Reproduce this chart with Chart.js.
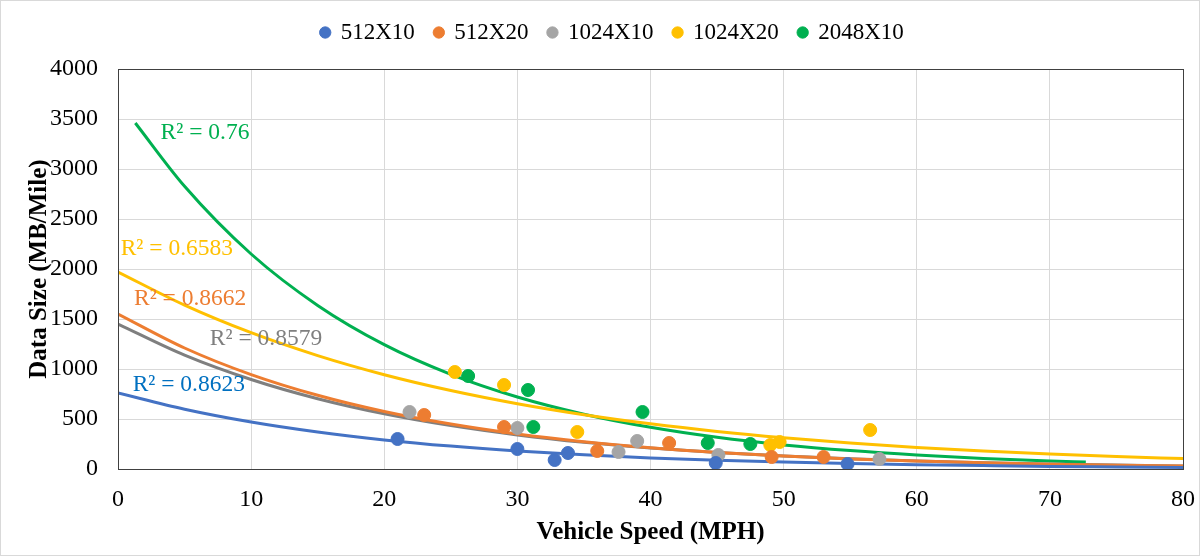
<!DOCTYPE html>
<html>
<head>
<meta charset="utf-8">
<script src="https://cdn.jsdelivr.net/npm/chart.js@4"></script>
<style>
  html, body { margin: 0; padding: 0; background: #fff; }
  #wrap { width: 1204px; height: 560px; position: relative; }
</style>
</head>
<body>
<div id="wrap"><canvas id="grafica"></canvas></div>
<script>
// ─── DATOS ────────────────────────────────────────────────────────
const series = ['512X10', '512X20', '1024X10', '1024X20', '2048X10']
const colores = ['#4472c4', '#ed7d31', '#a5a5a5', '#ffc000', '#00b050']
const coloresTend = ['#4472c4', '#ed7d31', '#7f7f7f', '#ffc000', '#00b050']
const coloresR2 = ['#0070c0', '#ed7d31', '#7f7f7f', '#ffc000', '#00b050']

// velocidad (MPH) / tamaño (MB/Mile) de cada punto
const vel512x10 = [21.0, 30.0, 32.8, 33.8, 44.9, 54.8]
const mb512x10 = [300, 200, 90, 160, 60, 50]
const vel512x20 = [23.0, 29.0, 36.0, 41.4, 49.1, 53.0]
const mb512x20 = [540, 420, 180, 260, 120, 120]
const vel1024x10 = [21.9, 30.0, 37.6, 39.0, 45.1, 57.2]
const mb1024x10 = [570, 410, 170, 280, 140, 100]
const vel1024x20 = [25.3, 29.0, 34.5, 49.0, 49.7, 56.5]
const mb1024x20 = [970, 840, 370, 240, 270, 390]
const vel2048x10 = [26.3, 30.8, 31.2, 39.4, 44.3, 47.5]
const mb2048x10 = [930, 790, 420, 570, 260, 250]

// líneas de tendencia
const velTend = [0, 5, 10, 15, 20, 25, 30, 35, 40, 45, 50, 55, 60, 65, 70, 75, 80]
const tend512x10 = [760, 598, 470, 370, 291, 229, 180, 142, 111, 88, 69, 54, 43, 34, 26, 21, 16]
const tend512x20 = [1550, 1210, 944, 737, 575, 449, 350, 273, 213, 166, 130, 101, 79, 62, 48, 38, 29]
const tend1024x10 = [1450, 1139, 895, 703, 552, 434, 341, 267, 210, 165, 130, 102, 80, 63, 49, 39, 31]
const tend1024x20 = [1970, 1639, 1363, 1134, 943, 785, 653, 543, 452, 376, 313, 260, 216, 180, 150, 125, 104]
const velTendVerde = [1.3, 5, 10, 15, 20, 25, 30, 35, 40, 45, 50, 55, 60, 65, 70, 72.7]
const tend2048x10 = [3460, 2827, 2150, 1636, 1244, 947, 720, 548, 417, 317, 241, 184, 140, 106, 81, 70]

// etiquetas R²
const textosR2 = ['R² = 0.8623', 'R² = 0.8662', 'R² = 0.8579', 'R² = 0.6583', 'R² = 0.76']
const posR2x = [1.1, 1.2, 6.9, 0.2, 3.2]
const posR2y = [840, 1700, 1300, 2200, 3360]

const xTicks = [0, 10, 20, 30, 40, 50, 60, 70, 80]

const fuente = "'Liberation Serif', 'Times New Roman', serif"

const puntos = (xs, ys) => xs.map((x, i) => ({ x: x, y: ys[i] }))

const velPuntos = [vel512x10, vel512x20, vel1024x10, vel1024x20, vel2048x10]
const mbPuntos = [mb512x10, mb512x20, mb1024x10, mb1024x20, mb2048x10]
const velTendencias = [velTend, velTend, velTend, velTend, velTendVerde]
const tendencias = [tend512x10, tend512x20, tend1024x10, tend1024x20, tend2048x10]

const datasets = []
series.forEach((nombre, i) => {
    datasets.push({
        type: 'scatter',
        label: nombre,
        data: puntos(velPuntos[i], mbPuntos[i]),
        backgroundColor: colores[i],
        borderColor: colores[i],
        pointRadius: 6.5,
        pointHoverRadius: 6.5,
        order: 1
    })
})
series.forEach((nombre, i) => {
    datasets.push({
        type: 'line',
        label: 'tend-' + nombre,
        data: puntos(velTendencias[i], tendencias[i]),
        borderColor: coloresTend[i],
        backgroundColor: coloresTend[i],
        borderWidth: 3,
        pointRadius: 0,
        cubicInterpolationMode: 'monotone',
        fill: false,
        order: 2
    })
})

// ─── PLUGIN: marco, borde del área, leyenda y textos R² ───────────
const extras = {
    id: 'extras',
    beforeLayout(chart) {
        const leg = chart.legend
        if (leg && !leg._ajustada) {
            const fitOrig = leg.fit.bind(leg)
            leg.fit = function () { fitOrig(); this.height = 68 }
            leg._ajustada = true
        }
    },
    afterLayout(chart) {
        const leg = chart.legend
        if (leg) { leg.left += 21; leg.right += 21 }
    },
    beforeDraw(chart) {
        const ctx = chart.ctx
        ctx.save()
        ctx.fillStyle = '#fff'
        ctx.fillRect(0, 0, chart.width, chart.height)
        ctx.strokeStyle = '#d9d9d9'
        ctx.lineWidth = 1
        ctx.strokeRect(0.5, 0.5, 1199, 555)
        ctx.restore()
    },
    afterDatasetsDraw(chart) {
        const ctx = chart.ctx
        const { left, right, top, bottom } = chart.chartArea
        ctx.save()
        ctx.strokeStyle = '#404040'
        ctx.lineWidth = 1
        ctx.strokeRect(Math.round(left) + 0.5, Math.round(top) + 0.5, Math.round(right - left), Math.round(bottom - top))
        ctx.font = '23.5px ' + fuente
        ctx.textBaseline = 'middle'
        ctx.textAlign = 'left'
        textosR2.forEach((t, i) => {
            ctx.fillStyle = coloresR2[i]
            ctx.fillText(t, chart.scales.x.getPixelForValue(posR2x[i]), chart.scales.y.getPixelForValue(posR2y[i]))
        })
        ctx.restore()
    }
}

new Chart(document.getElementById('grafica'), {
    type: 'scatter',
    data: { datasets: datasets },
    options: {
        responsive: true,
        maintainAspectRatio: false,
        animation: false,
        layout: { padding: { top: 1, right: 21, left: 0, bottom: 0 } },
        plugins: {
            tooltip: { enabled: false },
            legend: {
                position: 'top',
                labels: {
                    filter: item => item.datasetIndex < 5,
                    usePointStyle: true,
                    pointStyle: 'circle',
                    boxWidth: 8,
                    boxHeight: 8,
                    padding: 20,
                    color: '#000',
                    font: { family: fuente, size: 23 }
                }
            }
        },
        scales: {
            x: {
                type: 'linear',
                min: 0,
                max: 80,
                afterBuildTicks: s => { s.ticks = xTicks.map(v => ({ value: v })) },
                afterFit: s => { s.height = 91; s.paddingRight = 0; s.paddingLeft = 0 },
                ticks: { color: '#000', font: { family: fuente, size: 24 }, padding: 16 },
                grid: { color: '#d9d9d9', drawTicks: false },
                border: { display: false },
                title: {
                    display: true,
                    text: 'Vehicle Speed (MPH)',
                    color: '#000',
                    font: { family: fuente, size: 25, weight: 'bold' },
                    padding: { top: 0, bottom: 12 }
                }
            },
            y: {
                min: 0,
                max: 4000,
                afterFit: s => { s.width = 118 },
                ticks: {
                    stepSize: 500,
                    color: '#000',
                    font: { family: fuente, size: 24 },
                    padding: 20,
                    callback: v => String(v)
                },
                grid: { color: '#d9d9d9', drawTicks: false },
                border: { display: false },
                title: {
                    display: true,
                    text: 'Data Size (MB/Mile)',
                    color: '#000',
                    font: { family: fuente, size: 25, weight: 'bold' },
                    padding: { top: 25, bottom: 0 }
                }
            }
        }
    },
    plugins: [extras]
})
</script>
</body>
</html>
